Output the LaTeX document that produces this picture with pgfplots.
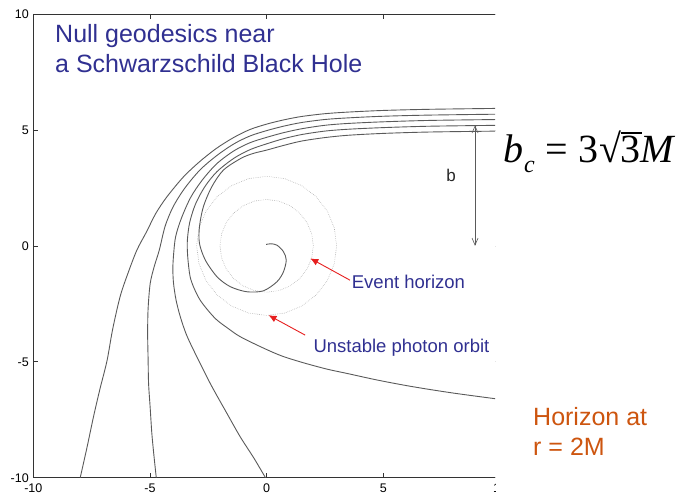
\documentclass[border=0pt]{standalone}
\usepackage{pgfplots}
\pgfplotsset{compat=1.18}
\usepackage{fontspec}
\setmainfont{Liberation Sans}
\newfontfamily\seriffont{Liberation Serif}
\usetikzlibrary{arrows.meta}
\definecolor{curvec}{RGB}{90,90,90}
\definecolor{titleblue}{RGB}{48,48,145}
\definecolor{horange}{RGB}{205,85,15}
\definecolor{arrred}{RGB}{230,30,30}
\definecolor{circc}{RGB}{175,175,175}
\begin{document}
\begin{tikzpicture}
\useasboundingbox (0pt,0pt) rectangle (682pt,498pt);
\begin{scope}
\clip (0pt,0pt) rectangle (495pt,498pt);
\begin{axis}[
  at={(33.3pt,20.3pt)}, anchor=south west, scale only axis,
  width=466.7pt, height=463.7pt,
  xmin=-10, xmax=10, ymin=-10, ymax=10,
  xtick={-10,-5,0,5,10}, ytick={-10,-5,0,5,10},
  tick align=inside, major tick length=5pt,
  axis line style={line width=0.8pt, black!80},
  tick style={black!80, line width=0.6pt},
  ticklabel style={font=\fontsize{12.5}{14}\selectfont},
  xticklabel style={yshift=-3pt},
  yticklabel style={xshift=-1pt},
  /pgf/number format/assume math mode=true,
  clip=true,
]
% photon orbit r=3M
\addplot[circc, line width=0.6pt, dash pattern=on 0.6pt off 1.2pt] coordinates {(3,0) (2.898,0.776) (2.598,1.5) (2.121,2.121) (1.5,2.598) (0.776,2.898) (0,3) (-0.776,2.898) (-1.5,2.598) (-2.121,2.121) (-2.598,1.5) (-2.898,0.776) (-3,0) (-2.898,-0.776) (-2.598,-1.5) (-2.121,-2.121) (-1.5,-2.598) (-0.776,-2.898) (0,-3) (0.776,-2.898) (1.5,-2.598) (2.121,-2.121) (2.598,-1.5) (2.898,-0.776) (3,0)};
% horizon r=2M
\addplot[circc, line width=0.6pt, dash pattern=on 0.6pt off 1.2pt] coordinates {(2,0) (1.932,0.518) (1.732,1) (1.414,1.414) (1,1.732) (0.518,1.932) (0,2) (-0.518,1.932) (-1,1.732) (-1.414,1.414) (-1.732,1) (-1.932,0.518) (-2,0) (-1.932,-0.518) (-1.732,-1) (-1.414,-1.414) (-1,-1.732) (-0.518,-1.932) (0,-2) (0.518,-1.932) (1,-1.732) (1.414,-1.414) (1.732,-1) (1.932,-0.518) (2,0)};
% geodesic 1
\addplot[curvec, line width=0.9pt, smooth] coordinates {(10,5.93) (7,5.89) (5,5.84) (3.5,5.77) (2.5,5.7) (1.5,5.58) (0.72,5.43) (0,5.25) (-0.71,5.02) (-1.4,4.68) (-2.13,4.22) (-2.85,3.65) (-3.56,2.98) (-4.27,2.12) (-4.75,1.4) (-5.15,0.6) (-5.56,-0.18) (-5.95,-1.2) (-6.28,-2.19) (-6.6,-3.6) (-6.84,-4.95) (-7.15,-6.2) (-7.42,-7.37) (-7.7,-8.7) (-7.99,-10)};
% geodesic 2
\addplot[curvec, line width=0.9pt, smooth] coordinates {(10,5.68) (7,5.64) (5,5.59) (3.5,5.52) (2.5,5.45) (1.5,5.32) (0.72,5.16) (0,4.97) (-0.71,4.74) (-1.4,4.4) (-2.13,3.9) (-2.85,3.28) (-3.5,2.5) (-4.0,1.7) (-4.35,0.85) (-4.6,-0.18) (-4.82,-0.9) (-4.99,-1.62) (-5.08,-2.7) (-5.1,-3.78) (-5.08,-4.9) (-5.06,-5.93) (-4.99,-7.0) (-4.92,-8.09) (-4.83,-9.05) (-4.73,-10)};
% geodesic 3
\addplot[curvec, line width=0.9pt, smooth] coordinates {(10,5.45) (7,5.41) (5,5.35) (3.5,5.28) (2.5,5.2) (1.5,5.05) (0.72,4.88) (0,4.68) (-0.71,4.45) (-1.4,4.1) (-2.13,3.55) (-2.75,2.85) (-3.25,2.1) (-3.65,1.2) (-3.9,0.4) (-3.99,-0.4) (-4.02,-1.0) (-3.99,-1.62) (-3.88,-2.35) (-3.7,-3.06) (-3.45,-3.8) (-3.13,-4.5) (-2.42,-5.93) (-1.70,-7.23) (-1.13,-8.24) (-0.55,-9.15) (-0.05,-10)};
% geodesic 4
\addplot[curvec, line width=0.9pt, smooth] coordinates {(10,5.2) (7,5.16) (5,5.1) (3.5,5.03) (2.5,4.95) (1.5,4.8) (0.72,4.62) (0,4.4) (-0.71,4.15) (-1.4,3.78) (-2.13,3.2) (-2.65,2.55) (-3.05,1.8) (-3.3,1.0) (-3.4,0.2) (-3.38,-0.5) (-3.28,-1.33) (-3.1,-1.85) (-2.85,-2.34) (-2.5,-2.8) (-2.13,-3.2) (-1.6,-3.6) (-1.13,-3.92) (-0.2,-4.38) (0.65,-4.75) (1.6,-5.05) (2.6,-5.32) (3.43,-5.5) (4.8,-5.8) (6.29,-6.08) (8,-6.35) (10,-6.62)};
% geodesic 5 (captured)
\addplot[curvec, line width=0.9pt, smooth] coordinates {(10,4.95) (7,4.91) (5,4.85) (3.5,4.77) (2.5,4.67) (1.5,4.52) (0.72,4.33) (0,4.13) (-0.56,3.99) (-1.09,3.78) (-1.85,3.27) (-2.35,2.55) (-2.71,1.69) (-2.88,0.82) (-2.88,0.11) (-2.63,-0.61) (-2.13,-1.33) (-1.56,-1.76) (-0.85,-1.98) (-0.14,-1.94) (0.44,-1.55) (0.72,-1.12) (0.84,-0.61) (0.72,-0.25) (0.44,0.03) (0.18,0.09) (-0.02,0.06)};
% b arrow
\addplot[curvec, line width=0.6pt, {Straight Barb[length=7pt,width=6pt]}-{Straight Barb[length=7pt,width=6pt]}] coordinates {(8.93,0) (8.93,5.2)};
% red arrows
\addplot[arrred, line width=0.9pt, -{Latex[length=8pt,width=7pt]}] coordinates {(3.57,-1.48) (1.87,-0.54)};
\addplot[arrred, line width=0.9pt, -{Latex[length=8pt,width=7pt]}] coordinates {(1.65,-3.85) (0.08,-2.99)};
\end{axis}
\end{scope}
% texts
\node[anchor=base west, inner sep=0pt, text=titleblue, font=\fontsize{25}{30}\selectfont] at (55pt,455pt) {Null geodesics near};
\node[anchor=base west, inner sep=0pt, text=titleblue, font=\fontsize{25}{30}\selectfont] at (55pt,425pt) {a Schwarzschild Black Hole};
\node[anchor=base, inner sep=0pt, text=black!85, font=\fontsize{17}{20}\selectfont] at (451pt,316pt) {b};
\node[anchor=base west, inner sep=0pt, text=titleblue, font=\fontsize{18.5}{22}\selectfont] at (351.7pt,209pt) {Event horizon};
\node[anchor=base west, inner sep=0pt, text=titleblue, font=\fontsize{18.5}{22}\selectfont] at (313.3pt,145.7pt) {Unstable photon orbit};
\node[anchor=base west, inner sep=0pt, text=black, font=\seriffont\fontsize{40}{44}\selectfont] at (503pt,335pt) {\itshape b\kern1pt\raisebox{-0.24em}{\fontsize{24}{24}\selectfont c}\upshape\kern1pt\ = \kern0pt3\kern1pt√\kern-0.5pt\makebox[0pt][l]{\rule[0.72em]{0.52em}{0.045em}}3\itshape M};
\node[anchor=base west, inner sep=0pt, text=horange, font=\fontsize{25}{30}\selectfont] at (533pt,73pt) {Horizon at};
\node[anchor=base west, inner sep=0pt, text=horange, font=\fontsize{25}{30}\selectfont] at (533pt,43pt) {r = 2M};
\end{tikzpicture}
\end{document}
